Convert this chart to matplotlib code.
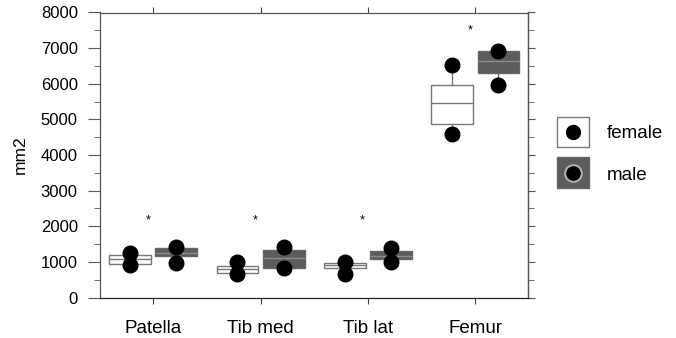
import matplotlib
matplotlib.use("Agg")
import matplotlib.pyplot as plt
from matplotlib.patches import Rectangle
from matplotlib.lines import Line2D
from matplotlib.ticker import MultipleLocator, FixedLocator

plt.rcParams['font.family'] = ['Liberation Sans', 'DejaVu Sans']

categories = ['Patella', 'Tib med', 'Tib lat', 'Femur']
female_q1 = [947, 694, 834, 4879]
female_med = [1067, 787, 907, 5469]
female_q3 = [1180, 880, 975, 5975]
female_min = [900, 666, 666, 4598]
female_max = [1236, 1003, 992, 6525]
male_q1 = [1160, 834, 1067, 6312]
male_med = [1236, 1095, 1160, 6650]
male_q3 = [1376, 1320, 1300, 6918]
male_min = [975, 834, 1003, 5955]
male_max = [1413, 1410, 1376, 6918]
star_y = [2150, 2150, 2150, 7500]
y_ticks = [0, 1000, 2000, 3000, 4000, 5000, 6000, 7000, 8000]

W, H = 676, 338
fig = plt.figure(figsize=(W / 100, H / 100), dpi=100)
ax = fig.add_axes([100 / W, 1 - 297.5 / H, 428 / W, 285 / H])

off = 0.215
bw = 0.39
pos = list(range(len(categories)))

def stats(q1, med, q3, lo, hi):
    return [dict(q1=a, med=b, q3=c, whislo=d, whishi=e, fliers=[])
            for a, b, c, d, e in zip(q1, med, q3, lo, hi)]

fs = stats(female_q1, female_med, female_q3, female_min, female_max)
ms = stats(male_q1, male_med, male_q3, male_min, male_max)

fpos = [p - off for p in pos]
mpos = [p + off for p in pos]

ax.bxp(fs, positions=fpos, widths=bw, patch_artist=True, showcaps=False,
       boxprops=dict(facecolor='white', edgecolor='#777777', linewidth=1.0),
       medianprops=dict(color='#777777', linewidth=1.0),
       whiskerprops=dict(color='#777777', linewidth=1.0), zorder=2)
ax.bxp(ms, positions=mpos, widths=bw, patch_artist=True, showcaps=False,
       boxprops=dict(facecolor='#5c5c5c', edgecolor='#666666', linewidth=1.0),
       medianprops=dict(color='#8c8c8c', linewidth=1.0),
       whiskerprops=dict(color='#666666', linewidth=1.0), zorder=2)

for xs, lo, hi in ((fpos, female_min, female_max), (mpos, male_min, male_max)):
    ax.plot(xs, lo, 'o', color='black', ms=10.5, zorder=3, linestyle='none')
    ax.plot(xs, hi, 'o', color='black', ms=10.5, zorder=3, linestyle='none')

for p, sy in zip(pos, star_y):
    ax.text(p - 0.05, sy, '*', ha='center', va='center', fontsize=9)

ax.set_xlim(-0.495, 3.49)
ax.set_ylim(0, 8000)
ax.set_xticks(pos)
ax.set_xticklabels(categories, fontsize=13.5)
ax.yaxis.set_major_locator(FixedLocator(y_ticks))
ax.yaxis.set_minor_locator(MultipleLocator(500))
ax.set_yticklabels([str(v) for v in y_ticks], fontsize=12)
ax.set_ylabel('mm2', fontsize=12.5)
ax.yaxis.set_label_coords(-0.168, 0.5)

ax.tick_params(axis='x', direction='out', length=4, pad=12, top=True,
               color='#444444')
ax.tick_params(axis='y', which='major', direction='out', length=9, pad=7,
               color='#555555')
ax.tick_params(axis='y', which='minor', direction='out', length=4,
               color='#555555')
for s in ax.spines.values():
    s.set_color('#555555')
    s.set_linewidth(0.9)
ax.spines['bottom'].set_color('#222222')

# right-hand mirrored ticks (no labels)
sec = ax.secondary_yaxis('right')
sec.yaxis.set_major_locator(FixedLocator(y_ticks))
sec.yaxis.set_minor_locator(MultipleLocator(500))
sec.tick_params(which='major', direction='out', length=5, labelright=False,
                color='#555555')
sec.tick_params(which='minor', direction='out', length=4, labelright=False,
                color='#555555')
sec.spines['right'].set_color('#555555')
sec.spines['right'].set_linewidth(0.9)

# legend (drawn manually, to the right of the axes)
def fx(px):
    return px / W

def fy(py):
    return 1 - py / H

fig.patches.append(Rectangle((fx(557), fy(147)), 32 / W, 30 / H,
                             transform=fig.transFigure, facecolor='white',
                             edgecolor='#777777', linewidth=1.0))
fig.patches.append(Rectangle((fx(557), fy(188)), 32 / W, 31 / H,
                             transform=fig.transFigure, facecolor='#5c5c5c',
                             edgecolor='#666666', linewidth=1.0))
fig.lines.append(Line2D([fx(573)], [fy(132)], marker='o', color='black',
                        ms=10, transform=fig.transFigure))
fig.lines.append(Line2D([fx(573)], [fy(172.5)], marker='o', color='black',
                        markeredgecolor='#b0b0b0', markeredgewidth=1.5,
                        ms=12, transform=fig.transFigure))
fig.text(fx(607), fy(133), 'female', fontsize=13.5, va='center', ha='left')
fig.text(fx(607), fy(175), 'male', fontsize=13.5, va='center', ha='left')

fig.savefig('out.png', dpi=100)
